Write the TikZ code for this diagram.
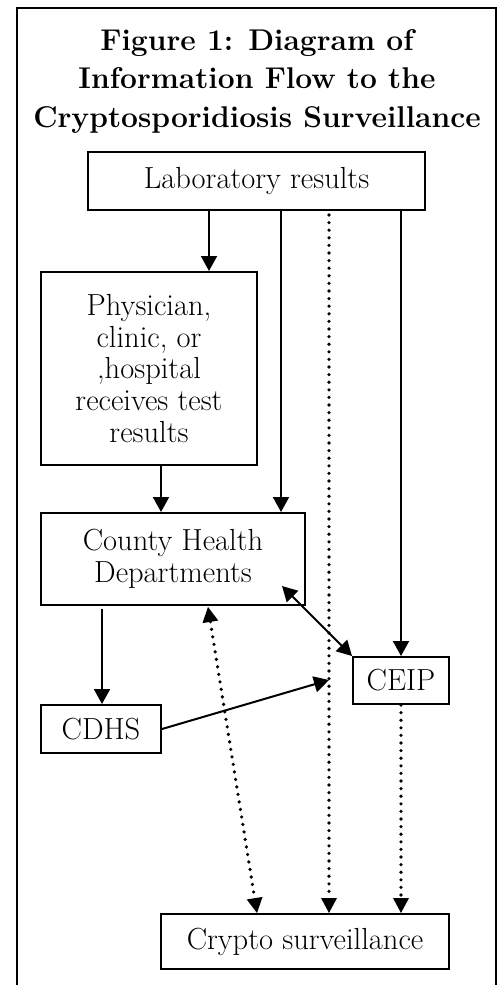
\documentclass[tikz,border=0pt]{standalone}
\usetikzlibrary{arrows.meta}
\begin{document}
\begin{tikzpicture}[x=1pt,y=-1pt,
  box/.style={draw,line width=2pt,rectangle,inner sep=0pt,align=center,
    font=\fontsize{30.5}{31.8}\selectfont},
  arr/.style={line width=2pt,-{Triangle[length=15pt,width=16pt]}},
  dots/.style={line width=3.6pt,line cap=round,dash pattern=on 0pt off 7.6pt,
    -{Triangle[length=15pt,width=16pt,line width=0pt]}},
  darr/.style={line width=2pt,{Triangle[length=15pt,width=16pt]}-{Triangle[length=15pt,width=16pt]}},
  ddots/.style={line width=3.6pt,line cap=round,dash pattern=on 0pt off 7.6pt,
    {Triangle[length=15pt,width=16pt,line width=0pt]}-{Triangle[length=15pt,width=16pt,line width=0pt]}}]
\useasboundingbox (0,0) rectangle (498,985);
% outer frame
\draw[line width=2pt] (17,992) -- (17,8) -- (496,8) -- (496,992);
% title
\node[anchor=north,inner sep=0pt,align=center,
  font=\fontsize{30}{38.5}\selectfont\bfseries] (title) at (257,29)
  {Figure 1: Diagram of\\Information Flow to the\\Cryptosporidiosis Surveillance};
% boxes
\node[box,minimum width=337pt,minimum height=58pt] (lab) at (256.5,181) {Laboratory results};
\node[box,minimum width=216pt,minimum height=193pt] (phys) at (149,368.5)
  {Physician,\\clinic, or\\,hospital\\receives test\\results};
\node[box,minimum width=264pt,minimum height=92pt] (county) at (173,559)
  {County Health\\Departments};
\node[box,minimum width=96pt,minimum height=47pt] (ceip) at (401,680.5) {CEIP};
\node[box,minimum width=120pt,minimum height=48pt] (cdhs) at (101,729) {CDHS};
\node[box,minimum width=288pt,minimum height=55pt] (crypto) at (305,941.5) {Crypto surveillance};
% column coordinates
\coordinate (x1) at (209,0);
\coordinate (x2) at (281,0);
\coordinate (x3) at (329,0);
\coordinate (x4) at (401,0);
\coordinate (x5) at (161,0);
\coordinate (x6) at (102,0);
\coordinate (x7) at (257,0);
\coordinate (cdstart) at (102,609);
\coordinate (dstart) at (329,215);
\coordinate (bistart) at (282,586);
\coordinate (jn) at (329,680);
\coordinate (dtop) at (208,607);
% connectors
\draw[arr] (lab.south -| x1) -- (phys.north -| x1);
\draw[arr] (lab.south -| x2) -- (county.north -| x2);
\draw[dots] (dstart) -- (crypto.north -| x3);
\draw[arr] (lab.south -| x4) -- (ceip.north -| x4);
\draw[arr] (phys.south -| x5) -- (county.north -| x5);
\draw[arr] (cdstart) -- (cdhs.north -| x6);
\draw[darr] (bistart) -- (ceip.north west);
\draw[arr] (cdhs.east) -- (jn);
\draw[ddots] (dtop) -- (crypto.north -| x7);
\draw[dots] (ceip.south) -- (crypto.north -| x4);
\end{tikzpicture}
\end{document}
